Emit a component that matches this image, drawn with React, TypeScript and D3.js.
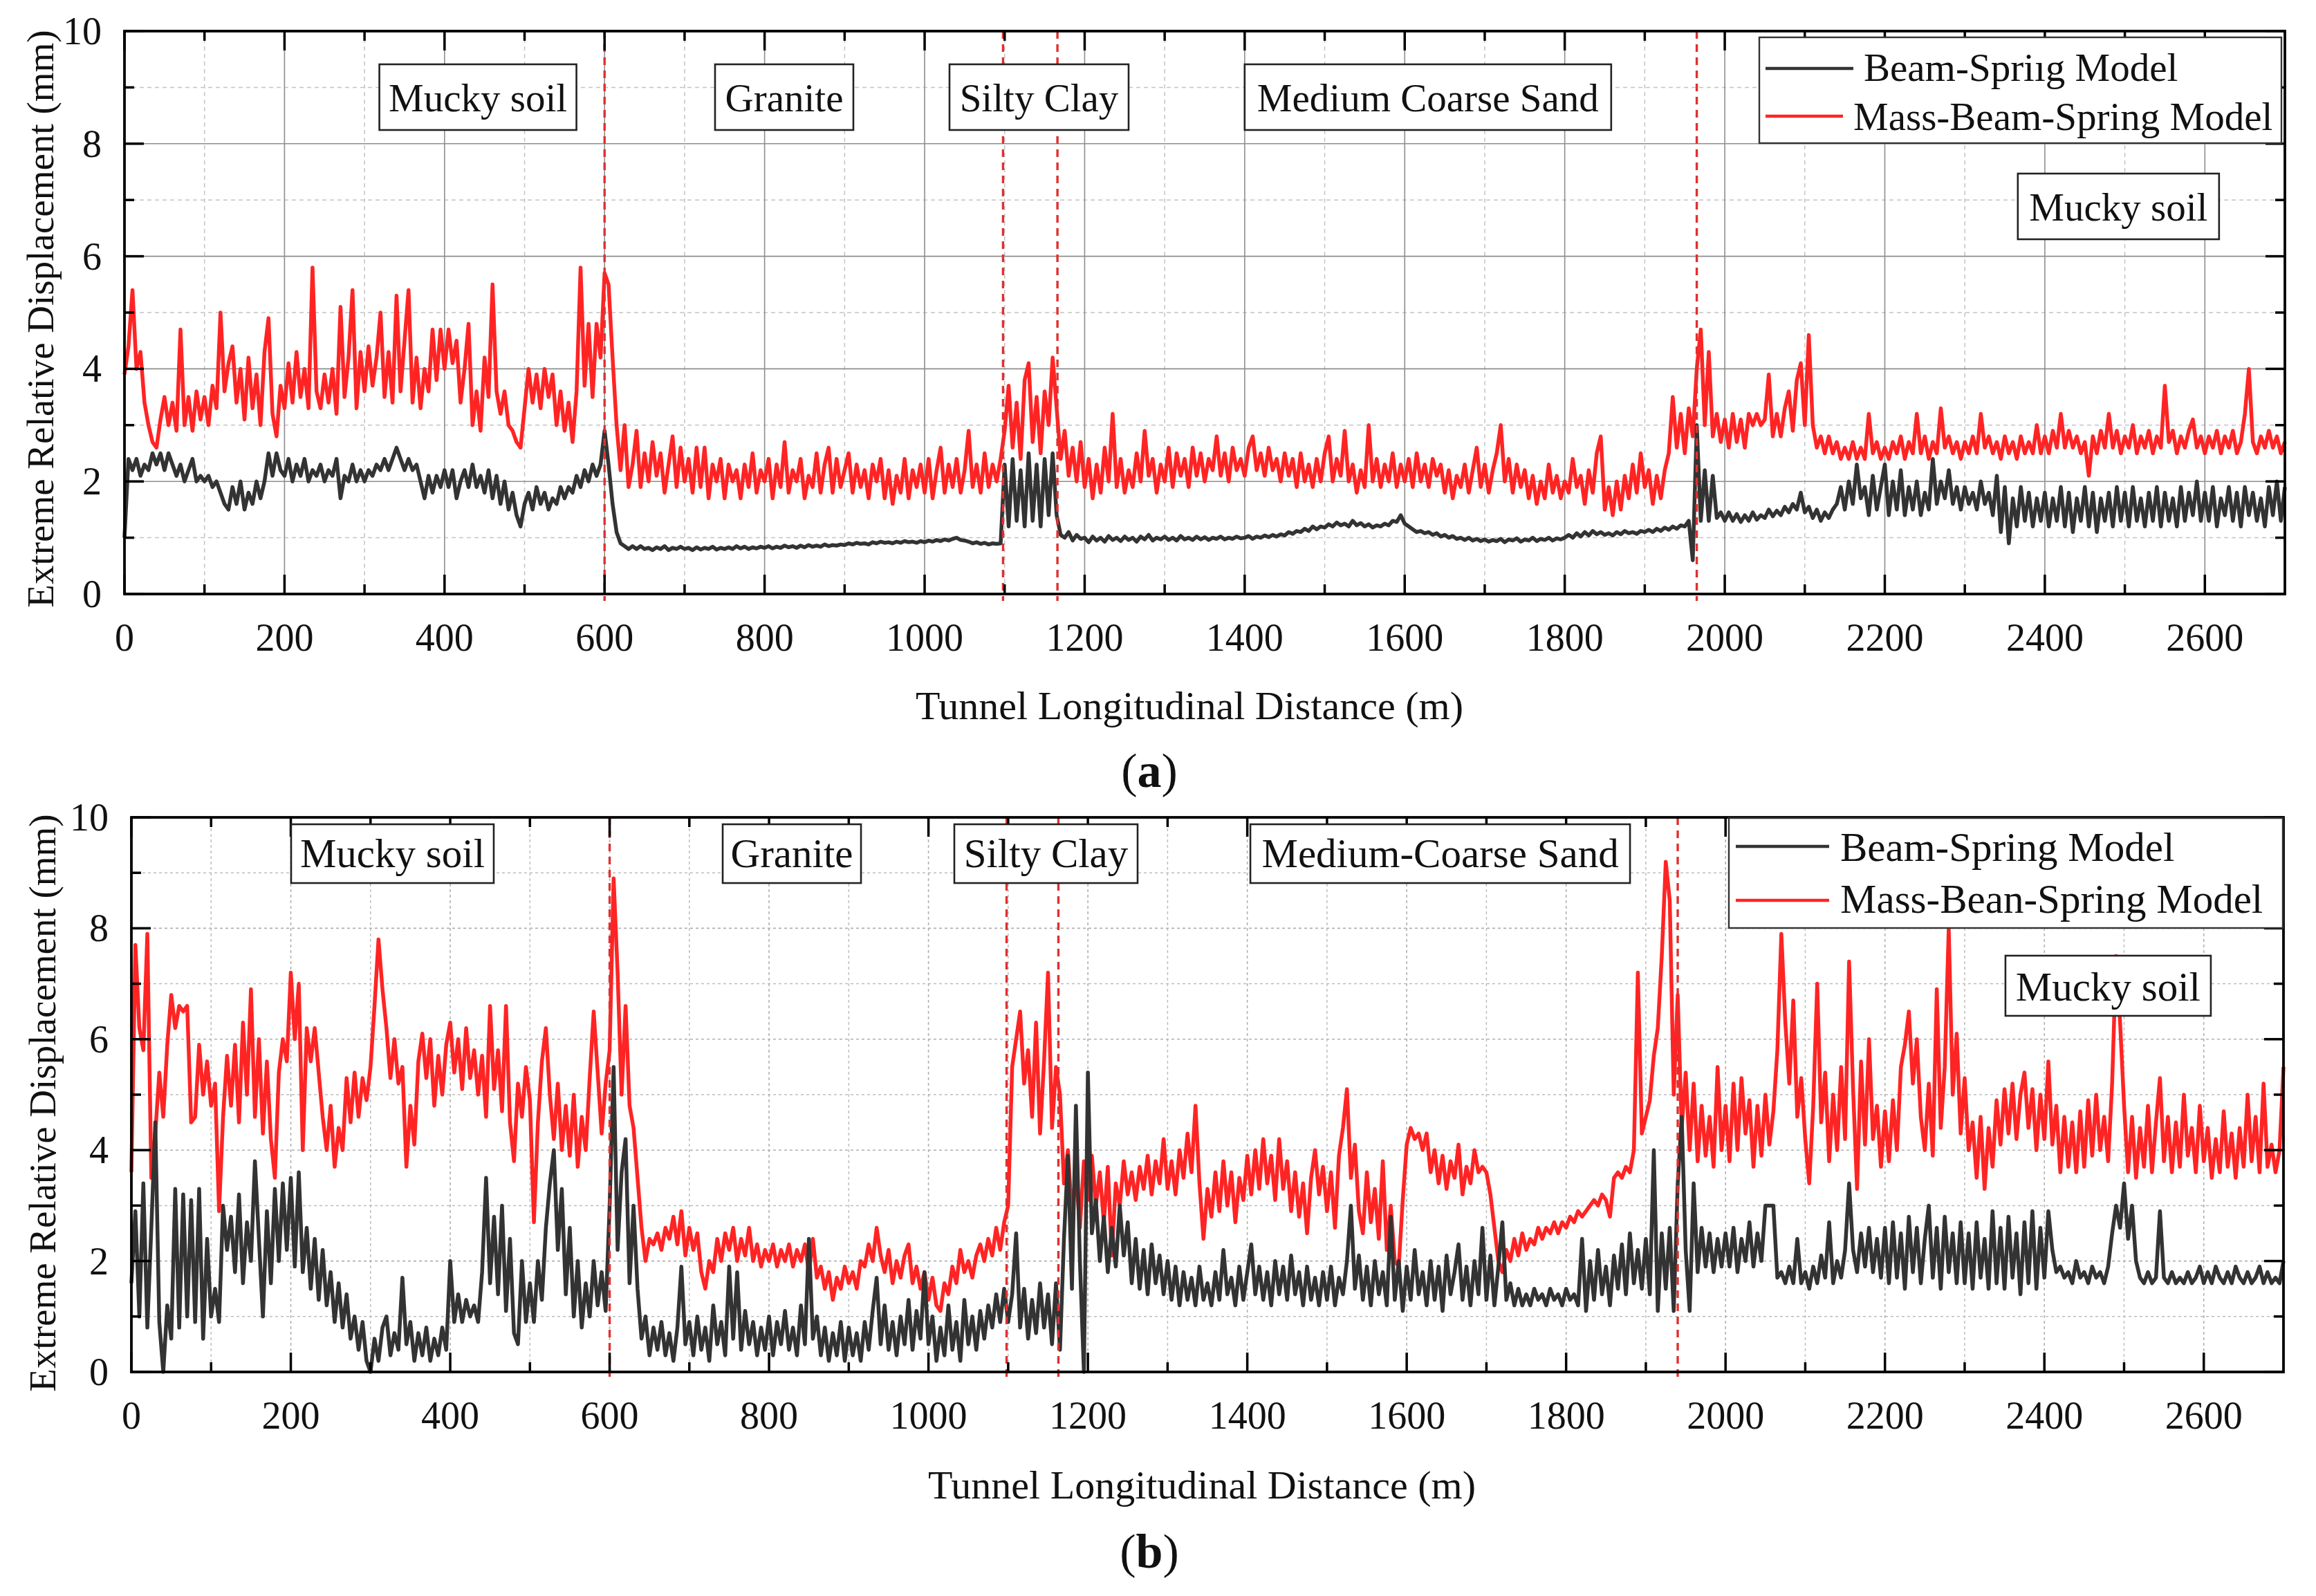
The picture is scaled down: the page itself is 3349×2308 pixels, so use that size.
import React from 'react';
import * as d3 from 'd3';

// distance step between samples (m)
const STEP = 5;

// ---------- (a) ----------
const topBS = [
1.0,2.4,2.2,2.4,2.1,2.3,2.2,2.5,2.3,2.5,2.2,2.5,2.3,2.1,2.3,2.0,2.2,2.4,2.0,2.1,
2.0,2.1,1.9,2.0,1.8,1.6,1.5,1.9,1.6,2.0,1.5,1.8,1.6,2.0,1.7,2.0,2.5,2.1,2.5,2.2,
2.1,2.4,2.0,2.3,2.1,2.4,2.0,2.2,2.1,2.3,2.0,2.2,2.1,2.4,1.7,2.1,2.0,2.3,2.0,2.2,
2.0,2.2,2.1,2.3,2.2,2.4,2.2,2.4,2.6,2.4,2.2,2.4,2.2,2.3,2.0,1.7,2.1,1.8,2.1,1.9,
2.2,1.9,2.2,1.7,2.0,2.2,1.9,2.3,1.9,2.1,1.8,2.2,1.7,2.1,1.6,2.0,1.5,1.8,1.4,1.2,
1.6,1.8,1.5,1.9,1.6,1.8,1.5,1.7,1.6,1.9,1.7,1.9,1.8,2.1,1.9,2.2,2.0,2.3,2.1,2.3,
2.9,2.3,1.6,1.1,0.9,0.85,0.8,0.85,0.8,0.85,0.8,0.82,0.78,0.83,0.8,0.85,0.78,0.82,0.8,0.84,
0.8,0.82,0.78,0.83,0.79,0.82,0.8,0.84,0.79,0.82,0.8,0.83,0.8,0.85,0.81,0.84,0.8,0.83,0.81,0.84,
0.82,0.85,0.81,0.84,0.82,0.86,0.83,0.85,0.82,0.86,0.83,0.87,0.84,0.86,0.84,0.88,0.85,0.87,0.86,0.88,
0.87,0.9,0.88,0.91,0.89,0.9,0.88,0.92,0.9,0.93,0.91,0.92,0.9,0.93,0.91,0.94,0.92,0.93,0.91,0.94,
0.92,0.95,0.93,0.96,0.94,0.97,0.95,0.98,1.0,0.96,0.95,0.93,0.9,0.92,0.89,0.91,0.88,0.9,0.89,0.9,
2.3,1.2,2.4,1.3,2.2,1.2,2.5,1.3,2.3,1.2,2.4,1.4,2.5,1.4,1.05,1.0,1.1,0.95,1.05,0.98,
1.0,0.92,1.02,0.95,1.0,0.93,1.03,0.96,1.0,0.94,1.02,0.96,1.0,0.93,1.02,0.97,1.05,0.95,1.0,0.97,
1.02,0.96,1.0,0.95,1.03,0.97,1.0,0.96,1.02,0.97,1.01,0.96,1.0,0.98,1.02,0.97,1.0,0.98,1.02,0.99,
1.0,1.03,0.98,1.02,1.0,1.04,1.01,1.05,1.02,1.06,1.04,1.1,1.07,1.12,1.1,1.16,1.12,1.2,1.15,1.2,
1.18,1.24,1.2,1.27,1.22,1.25,1.2,1.3,1.22,1.26,1.2,1.24,1.18,1.22,1.2,1.25,1.22,1.3,1.28,1.4,
1.25,1.2,1.15,1.1,1.12,1.08,1.1,1.05,1.08,1.02,1.05,1.0,1.03,0.98,1.0,0.96,1.0,0.95,0.98,0.94,
0.97,0.93,0.96,0.94,0.98,0.92,0.97,0.95,0.99,0.93,0.97,0.95,1.0,0.94,0.98,0.96,1.0,0.95,0.99,0.97,
1.0,1.05,1.0,1.08,1.02,1.1,1.04,1.12,1.06,1.1,1.05,1.08,1.04,1.1,1.06,1.12,1.08,1.1,1.07,1.12,
1.1,1.14,1.1,1.16,1.12,1.18,1.14,1.2,1.16,1.22,1.2,1.3,0.6,3.0,1.3,2.2,1.3,2.1,1.35,1.45,
1.3,1.45,1.3,1.42,1.28,1.4,1.3,1.45,1.32,1.4,1.35,1.5,1.38,1.48,1.4,1.55,1.45,1.6,1.5,1.8,
1.45,1.55,1.35,1.5,1.3,1.45,1.35,1.5,1.6,1.9,1.5,2.0,1.6,2.3,1.7,1.9,1.4,2.1,1.5,1.9,
2.3,1.4,2.0,1.5,2.2,1.4,1.9,1.5,2.0,1.4,1.8,1.5,2.4,1.6,2.0,1.7,2.2,1.6,1.9,1.5,
1.9,1.6,1.8,1.5,2.0,1.6,1.8,1.4,2.1,1.1,1.9,0.9,1.7,1.2,1.9,1.3,1.8,1.2,1.7,1.3,
1.8,1.2,1.7,1.3,1.9,1.2,1.8,1.1,1.7,1.3,1.9,1.2,1.8,1.1,1.7,1.3,1.8,1.2,1.9,1.3,
1.8,1.2,1.9,1.3,1.7,1.2,1.8,1.3,1.9,1.2,1.8,1.3,1.7,1.2,1.9,1.3,1.8,1.4,2.0,1.3,
1.8,1.3,1.9,1.2,1.7,1.4,1.9,1.3,1.8,1.2,1.9,1.4,1.8,1.3,1.7,1.2,1.9,1.4,2.0,1.3,
1.9,
];

const topMBS = [
3.9,4.4,5.4,4.0,4.3,3.4,3.0,2.7,2.6,3.1,3.5,3.0,3.4,2.9,4.7,3.0,3.5,2.9,3.6,3.1,
3.5,3.0,3.7,3.3,5.0,3.6,4.1,4.4,3.4,4.0,3.1,4.2,3.3,3.9,3.0,4.3,4.9,3.2,2.8,3.7,
3.3,4.1,3.4,4.3,3.5,4.0,3.3,5.8,3.6,3.3,3.9,3.4,4.0,3.2,5.1,3.5,4.2,5.4,3.3,4.3,
3.6,4.4,3.7,4.2,5.0,3.5,4.3,3.4,5.3,3.6,4.5,5.4,3.4,4.2,3.3,4.0,3.6,4.7,3.8,4.7,
4.0,4.7,4.1,4.5,3.4,4.0,4.8,3.0,3.6,2.9,4.2,3.5,5.5,3.6,3.2,3.6,3.0,2.9,2.7,2.6,
3.3,4.0,3.4,3.9,3.3,4.0,3.5,3.9,3.0,3.6,2.9,3.4,2.7,3.6,5.8,3.7,4.8,3.5,4.8,4.2,
5.7,5.5,4.2,3.0,2.2,3.0,1.9,2.3,2.9,1.9,2.5,2.0,2.7,2.1,2.5,1.8,2.3,2.8,1.9,2.6,
2.0,2.4,1.8,2.6,1.9,2.6,1.7,2.3,2.0,2.4,1.7,2.3,2.0,2.2,1.7,2.3,1.9,2.5,1.8,2.2,
2.0,2.4,1.7,2.3,1.9,2.7,1.8,2.2,2.0,2.4,1.7,2.1,1.9,2.5,1.8,2.3,2.6,1.8,2.4,1.9,
2.2,2.5,1.8,2.3,1.9,2.2,1.7,2.3,2.0,2.4,1.7,2.2,1.6,2.1,1.8,2.4,1.7,2.2,1.9,2.3,
1.8,2.4,1.7,2.2,2.6,1.8,2.3,1.9,2.4,1.8,2.2,2.9,1.9,2.3,1.8,2.5,1.9,2.3,2.0,2.4,
2.9,3.7,2.6,3.4,2.4,3.8,4.1,2.7,3.5,2.5,3.6,3.0,4.2,3.3,2.4,2.9,2.1,2.6,2.0,2.7,
1.9,2.4,1.7,2.3,1.8,2.6,2.0,3.2,1.9,2.4,1.8,2.2,1.9,2.5,2.0,2.9,2.1,2.4,1.8,2.3,
2.0,2.6,1.9,2.5,2.1,2.4,1.9,2.6,2.1,2.5,2.0,2.4,2.2,2.8,2.1,2.5,2.0,2.6,2.2,2.4,
2.1,2.6,2.8,2.2,2.5,2.1,2.6,2.2,2.4,2.0,2.5,2.1,2.4,1.9,2.5,2.0,2.3,1.9,2.4,2.0,
2.5,2.8,2.0,2.4,2.1,2.9,2.0,2.3,1.8,2.2,1.9,3.0,2.0,2.4,1.9,2.3,2.0,2.5,1.9,2.3,
2.0,2.4,1.9,2.5,2.0,2.3,1.9,2.4,2.1,2.3,1.8,2.2,1.7,2.1,1.9,2.3,1.8,2.2,2.6,1.9,
2.3,1.8,2.2,2.5,3.0,2.0,2.4,1.8,2.3,1.9,2.2,1.7,2.1,1.6,2.0,1.7,2.3,1.8,2.1,1.7,
2.0,1.8,2.4,1.9,2.1,1.6,2.2,1.8,2.5,2.8,1.5,1.9,1.4,2.0,1.5,2.1,1.7,2.3,1.8,2.5,
1.9,2.2,1.6,2.1,1.7,2.2,2.5,3.5,2.6,3.2,2.5,3.3,2.8,4.0,4.7,3.0,4.3,2.8,3.2,2.7,
3.1,2.6,3.2,2.7,3.1,2.6,3.2,3.0,3.2,3.0,3.1,3.9,2.8,3.2,2.8,3.3,3.6,2.9,3.8,4.1,
3.0,4.6,3.0,2.6,2.8,2.5,2.8,2.5,2.7,2.4,2.6,2.4,2.7,2.4,2.6,2.4,3.2,2.5,2.7,2.4,
2.6,2.4,2.7,2.5,2.8,2.4,2.7,2.5,3.2,2.5,2.8,2.4,2.7,2.5,3.3,2.6,2.8,2.5,2.7,2.4,
2.7,2.5,2.8,2.5,3.2,2.6,2.8,2.5,2.7,2.4,2.8,2.5,2.7,2.4,2.8,2.5,2.7,2.5,3.0,2.5,
2.8,2.5,2.9,2.6,3.2,2.6,2.9,2.6,2.8,2.5,2.7,2.1,2.8,2.5,2.9,2.6,3.2,2.6,2.9,2.5,
2.8,2.6,3.0,2.5,2.8,2.6,2.9,2.5,2.8,2.6,3.7,2.7,2.9,2.5,2.8,2.6,2.9,3.1,2.6,2.8,
2.5,2.8,2.6,2.9,2.5,2.8,2.6,2.9,2.5,2.7,3.2,4.0,2.7,2.5,2.8,2.6,2.9,2.6,2.8,2.5,
2.7,
];

// ---------- (b) ----------
const botBS = [
1.6,2.9,1.0,3.4,0.8,2.6,4.5,0.9,0.0,1.2,0.6,3.3,0.8,3.2,1.0,3.1,0.9,3.3,0.6,2.4,
1.0,1.5,0.9,3.0,2.2,2.8,1.8,3.2,1.6,2.7,2.0,3.8,2.4,1.0,2.9,1.6,3.3,2.0,3.4,2.2,
3.5,1.9,3.6,1.8,2.6,1.5,2.4,1.3,2.2,1.2,1.8,0.9,1.6,0.8,1.4,0.6,1.0,0.4,0.9,0.2,
0.0,0.6,0.2,0.8,1.0,0.3,0.7,0.4,1.7,0.5,0.9,0.2,0.7,0.3,0.8,0.2,0.6,0.3,0.8,0.4,
2.0,0.9,1.4,0.9,1.3,1.0,1.2,0.9,1.8,3.5,1.6,2.8,1.4,3.0,1.1,2.4,0.7,0.5,2.0,0.9,
1.6,0.9,2.0,1.3,2.6,3.4,4.0,2.2,3.3,1.4,2.6,1.0,2.0,0.8,1.6,1.0,2.0,1.2,1.8,1.1,
3.0,5.5,2.2,3.6,4.2,1.6,3.0,1.5,0.6,1.0,0.3,0.8,0.4,0.9,0.3,0.7,0.2,0.8,1.9,0.5,
0.9,0.3,1.0,0.4,0.8,0.2,1.2,0.5,0.9,0.3,1.9,0.6,1.8,0.4,1.1,0.5,0.9,0.3,0.8,0.4,
1.0,0.3,0.9,0.5,1.1,0.4,0.8,0.3,1.2,0.5,2.4,0.6,1.0,0.3,0.8,0.2,0.7,0.3,0.9,0.2,
0.8,0.3,0.7,0.2,0.9,0.4,1.1,1.7,0.5,1.2,0.4,0.9,0.3,1.0,0.5,1.3,0.4,1.1,0.6,1.8,
0.5,1.0,0.2,0.8,0.3,1.2,0.4,0.9,0.2,1.3,0.5,1.0,0.4,1.1,0.6,1.2,0.8,1.4,0.9,1.5,
0.9,1.4,2.5,0.8,1.5,0.6,1.3,0.7,1.6,0.8,1.4,0.5,1.6,0.4,2.4,3.9,1.5,4.8,2.0,0.0,
5.4,2.5,3.1,2.0,2.8,1.8,2.6,1.9,3.0,2.1,2.7,1.6,2.4,1.5,2.2,1.4,2.3,1.6,2.1,1.4,
2.0,1.3,1.9,1.2,1.8,1.3,1.7,1.2,1.9,1.3,1.6,1.2,1.8,1.3,2.2,1.4,1.7,1.2,1.9,1.3,
1.8,2.3,1.4,1.9,1.3,1.8,1.2,2.0,1.4,1.9,1.3,2.1,1.4,1.8,1.2,1.9,1.3,1.7,1.2,1.8,
1.3,1.9,1.2,1.7,1.4,2.0,3.0,1.5,2.1,1.3,1.9,1.2,2.0,1.4,1.8,1.2,2.8,1.3,2.0,1.1,
1.9,1.3,2.2,1.4,1.8,1.2,2.0,1.3,1.9,1.1,2.1,1.4,1.8,2.3,1.3,1.9,1.2,2.0,1.4,2.6,
1.3,2.1,1.2,1.9,2.7,1.3,1.6,1.2,1.5,1.2,1.4,1.2,1.5,1.3,1.4,1.2,1.5,1.3,1.4,1.2,
1.5,1.3,1.4,1.2,2.4,1.1,2.0,1.3,2.2,1.4,1.9,1.2,2.1,1.5,2.3,1.4,2.5,1.6,2.2,1.5,
2.4,1.4,4.0,1.1,2.5,1.5,2.6,1.1,3.4,4.6,2.2,1.1,3.4,1.8,2.6,1.9,2.5,1.8,2.4,1.9,
2.5,1.9,2.6,1.8,2.4,2.0,2.7,1.9,2.5,2.0,3.0,3.0,3.0,1.7,1.8,1.6,1.9,1.6,2.4,1.6,
1.8,1.5,1.9,1.6,2.1,1.7,2.7,1.6,2.0,1.7,2.2,3.4,2.2,1.8,2.5,1.9,2.6,1.8,2.4,1.7,
2.6,1.6,2.7,1.7,2.5,1.5,2.8,1.8,2.6,1.6,2.4,3.0,1.7,2.6,1.5,2.8,1.8,2.5,1.6,2.7,
1.6,2.5,1.5,2.7,1.7,2.4,1.5,2.9,1.6,2.6,1.5,2.8,1.7,2.5,1.4,2.7,1.6,2.9,1.5,2.6,
1.7,2.9,2.2,1.8,1.9,1.7,1.8,1.6,2.0,1.7,1.8,1.6,1.9,1.7,1.8,1.6,1.9,2.5,3.0,2.6,
3.4,2.4,3.0,2.0,1.7,1.6,1.8,1.6,1.7,2.9,1.7,1.6,1.8,1.6,1.7,1.6,1.8,1.6,1.7,1.9,
1.6,1.8,1.6,1.9,1.7,1.6,1.8,1.6,1.9,1.7,1.6,1.8,1.6,1.7,1.9,1.6,1.8,1.6,1.7,1.6,
2.0,
];

const botMBS = [
3.6,7.7,6.2,5.8,7.9,3.5,4.3,5.4,4.6,5.9,6.8,6.2,6.6,6.5,6.6,4.5,4.6,5.9,5.0,5.6,
4.8,5.2,2.9,4.6,5.7,4.8,5.9,4.5,6.3,5.0,6.9,4.6,6.0,4.3,5.6,4.2,3.5,5.4,6.0,5.6,
7.2,6.0,7.0,4.0,6.2,5.6,6.2,5.4,4.6,4.0,4.8,3.7,4.4,4.0,5.3,4.5,5.4,4.6,5.3,4.9,
5.5,6.6,7.8,6.9,6.2,5.3,6.0,5.2,5.5,3.7,4.8,4.1,5.6,6.1,5.3,6.0,4.8,5.7,5.0,5.9,
6.3,5.4,6.0,5.1,6.2,5.3,5.8,5.0,5.7,4.6,6.6,5.1,5.8,4.7,6.6,4.5,3.8,5.2,4.6,5.5,
4.9,2.7,4.5,5.6,6.2,5.0,4.2,5.2,4.0,4.8,3.9,5.0,3.7,4.6,4.0,5.3,6.5,5.4,4.3,5.2,
5.8,8.9,7.2,5.0,6.6,4.8,4.4,3.5,2.6,2.0,2.4,2.3,2.5,2.2,2.6,2.4,2.8,2.3,2.9,2.1,
2.6,2.2,2.5,1.8,1.5,2.0,1.8,2.4,2.0,2.5,2.2,2.6,2.0,2.4,2.1,2.6,2.0,2.3,1.9,2.2,
2.0,2.3,1.9,2.2,2.0,2.3,1.9,2.2,2.0,2.3,1.8,2.4,1.7,1.9,1.5,1.8,1.3,1.7,1.5,1.9,
1.6,1.8,1.5,2.0,1.9,2.3,2.0,2.6,2.1,1.8,2.2,1.6,2.0,1.7,2.1,2.3,1.6,1.9,1.5,1.8,
1.3,1.7,1.2,1.1,1.6,1.4,1.9,1.6,2.2,1.8,2.0,1.7,2.1,2.3,2.0,2.4,2.1,2.6,2.2,2.7,
3.0,5.5,6.0,6.5,5.2,5.8,4.6,6.3,4.3,5.6,7.2,4.4,5.5,5.0,3.4,4.0,2.8,3.6,2.6,3.8,
3.1,3.9,3.0,3.6,2.7,3.7,2.1,3.4,3.0,3.8,3.2,3.6,3.1,3.7,3.3,3.9,3.2,3.8,3.4,4.2,
3.3,3.8,3.2,4.0,3.5,4.3,3.6,4.8,3.4,2.4,3.3,2.8,3.6,2.9,3.8,3.0,3.6,2.7,3.5,3.1,
3.9,3.2,4.0,3.3,4.2,3.4,3.9,3.1,4.2,3.3,3.8,2.9,3.6,2.8,3.4,2.5,3.5,4.0,3.2,3.7,
2.9,3.6,2.6,3.9,4.4,5.1,3.5,4.1,2.9,2.5,3.6,2.7,3.3,2.4,3.8,2.2,3.0,2.0,1.9,3.1,
4.1,4.4,4.2,4.3,4.0,4.3,3.6,4.0,3.4,3.9,3.3,3.8,3.5,4.1,3.2,3.7,3.4,4.0,3.6,3.7,
3.6,3.2,2.6,2.0,1.8,2.2,2.0,2.4,2.1,2.5,2.2,2.4,2.3,2.6,2.4,2.6,2.5,2.7,2.5,2.7,
2.6,2.8,2.7,2.9,2.8,2.9,3.0,3.1,3.0,3.2,3.1,2.8,3.5,3.6,3.5,3.7,3.6,4.0,7.2,4.3,
4.6,4.9,5.7,6.2,7.5,9.2,8.5,5.0,6.8,4.4,5.4,4.0,5.2,3.8,4.8,3.9,4.6,3.7,5.5,4.0,
4.8,3.8,5.2,4.0,5.3,4.3,4.9,3.7,4.8,3.9,5.0,4.1,4.7,5.8,7.9,6.3,5.2,6.7,4.6,5.3,
4.2,3.4,4.8,7.0,4.5,5.4,3.8,5.0,4.0,5.5,4.2,7.4,5.1,3.3,5.6,4.1,6.0,4.2,4.8,3.7,
4.7,3.8,4.9,4.0,5.5,5.9,6.5,5.2,6.0,4.6,4.0,5.2,3.9,6.9,4.4,5.5,8.0,5.0,6.1,4.3,
5.3,4.0,4.5,3.5,4.6,3.3,4.4,3.7,4.9,4.1,5.1,4.3,5.2,4.2,5.0,5.4,4.4,5.1,4.0,5.0,
4.2,5.6,4.1,4.8,3.6,4.6,3.7,4.5,3.6,4.7,3.7,4.9,3.9,5.0,4.0,4.6,3.8,5.2,7.5,6.3,
4.8,3.6,4.6,3.5,4.4,3.7,4.8,3.6,4.5,5.3,3.8,4.6,3.6,4.5,3.7,5.0,3.9,4.4,3.6,4.8,
3.8,4.4,3.5,4.2,3.6,4.7,3.7,4.3,3.5,4.4,3.7,5.0,3.8,4.6,3.6,5.2,3.7,4.1,3.6,4.0,
5.5,
];

// ---------- axes, annotations ----------
const X_DOMAIN = [0, 2700];
const Y_DOMAIN = [0, 10];
const xMajorTicks = d3.range(0, 2701, 200);
const xMinorTicks = d3.range(100, 2700, 200);
const yMajorTicks = [0, 2, 4, 6, 8, 10];
const yMinorTicks = [1, 3, 5, 7, 9];

const topLayerNames = ['Mucky soil', 'Granite', 'Silty Clay', 'Medium Coarse Sand', 'Mucky soil'];
const topLayerCenters = [441.7, 824.5, 1143, 1629, 2492];
const topLayerWidths = [285, 200, 259, 530, 291];
const topLayerRows = [0, 0, 0, 0, 1];
const topBoundaries = [600, 1098, 1166, 1965];
const topLegendNames = ['Beam-Spri\u0131g Model', 'Mass-Beam-Spring Model'];

const botLayerNames = ['Mucky soil', 'Granite', 'Silty Clay', 'Medium-Coarse Sand', 'Mucky soil'];
const botLayerCenters = [327.5, 828.6, 1147.4, 1642, 2480];
const botLayerWidths = [293, 200, 265, 549, 297];
const botLayerRows = [0, 0, 0, 0, 1];
const botBoundaries = [600, 1098, 1163, 1940];
const botLegendNames = ['Beam-Spring Model', 'Mass-Bean-Spring Model'];

const XTITLE = 'Tunnel Longitudinal Distance (m)';
const YTITLE = 'Extreme Relative Displacement (mm)';

const RED = '#ff2424';
const BLACK = '#333333';
const FONT = "'Liberation Serif','Times New Roman',Times,serif";

type Cfg = {
  left: number; right: number; top: number; bottom: number;
  bs: number[]; mbs: number[];
  names: string[]; centers: number[]; widths: number[]; rows: number[];
  rowTop: number[]; rowH: number[]; rowBase: number[]; labelSize: number;
  bounds: number[]; legend: string[];
  leg: { x0: number; x1: number; y0: number; y1: number; lx0: number; lx1: number[]; ly: number[]; tx: number[]; tb: number[]; size: number };
  solidGrid: boolean;
  yTitleX: number; yTitleY: number; xTitleX: number; xTitleY: number;
  tag: string; tagY: number;
};

const topCfg: Cfg = {
  left: 180, right: 3304, top: 45, bottom: 859,
  bs: topBS, mbs: topMBS,
  names: topLayerNames, centers: topLayerCenters, widths: topLayerWidths, rows: topLayerRows,
  rowTop: [93, 251], rowH: [95, 95], rowBase: [161, 319], labelSize: 57,
  bounds: topBoundaries, legend: topLegendNames,
  leg: { x0: 2544, x1: 3299, y0: 54, y1: 207, lx0: 2553, lx1: [2680, 2665], ly: [99, 168], tx: [2695, 2680], tb: [117, 188], size: 57 },
  solidGrid: true,
  yTitleX: 77, yTitleY: 461, xTitleX: 1720, xTitleY: 1040,
  tag: 'a', tagY: 1138,
};

const botCfg: Cfg = {
  left: 190, right: 3302, top: 1182, bottom: 1984,
  bs: botBS, mbs: botMBS,
  names: botLayerNames, centers: botLayerCenters, widths: botLayerWidths, rows: botLayerRows,
  rowTop: [1192, 1382], rowH: [85, 87], rowBase: [1254, 1447], labelSize: 59,
  bounds: botBoundaries, legend: botLegendNames,
  leg: { x0: 2500, x1: 3301, y0: 1183, y1: 1342, lx0: 2510, lx1: [2645, 2645], ly: [1224, 1302], tx: [2661, 2661], tb: [1245, 1320], size: 59 },
  solidGrid: false,
  yTitleX: 80, yTitleY: 1595, xTitleX: 1738, xTitleY: 2167,
  tag: 'b', tagY: 2267,
};

function Panel({ c }: { c: Cfg }) {
  const x = d3.scaleLinear().domain(X_DOMAIN).range([c.left, c.right]);
  const y = d3.scaleLinear().domain(Y_DOMAIN).range([c.bottom, c.top]);
  const line = d3.line<number>().x((_, i) => x(i * STEP)).y((d) => y(d));
  const majGridX = xMajorTicks.filter((v) => v > 0 && v < 2700);
  const majGridY = yMajorTicks.filter((v) => v > 0 && v < 10);
  const gMajor = c.solidGrid
    ? { stroke: '#8e8e8e', strokeWidth: 1.6 }
    : { stroke: '#b0b0b0', strokeWidth: 1.6, strokeDasharray: '4,4' };
  const gMinor = c.solidGrid
    ? { stroke: '#c4c4c4', strokeWidth: 1.5, strokeDasharray: '6,5' }
    : { stroke: '#bdbdbd', strokeWidth: 1.5, strokeDasharray: '4,4' };
  const tickW = 3.5;
  return (
    <g>
      {/* grid */}
      {xMinorTicks.map((v) => (
        <line key={'gxn' + v} x1={x(v)} x2={x(v)} y1={c.top} y2={c.bottom} {...gMinor} />
      ))}
      {yMinorTicks.map((v) => (
        <line key={'gyn' + v} x1={c.left} x2={c.right} y1={y(v)} y2={y(v)} {...gMinor} />
      ))}
      {majGridX.map((v) => (
        <line key={'gxm' + v} x1={x(v)} x2={x(v)} y1={c.top} y2={c.bottom} {...gMajor} />
      ))}
      {majGridY.map((v) => (
        <line key={'gym' + v} x1={c.left} x2={c.right} y1={y(v)} y2={y(v)} {...gMajor} />
      ))}

      {/* series */}
      <path d={line(c.mbs) || ''} fill="none" stroke={RED} strokeWidth={5.5} strokeLinejoin="round" />
      <path d={line(c.bs) || ''} fill="none" stroke={BLACK} strokeWidth={5.5} strokeLinejoin="round" />

      {/* stratum boundaries */}
      {c.bounds.map((v) => (
        <line key={'b' + v} x1={x(v)} x2={x(v)} y1={c.top} y2={c.bottom + 10} stroke="#e03030" strokeWidth={3.4} strokeDasharray="11,8" />
      ))}

      {/* ticks */}
      {xMajorTicks.map((v) => (
        <g key={'txm' + v}>
          <line x1={x(v)} x2={x(v)} y1={c.bottom} y2={c.bottom - 28} stroke="#000" strokeWidth={tickW} />
          <line x1={x(v)} x2={x(v)} y1={c.top} y2={c.top + 28} stroke="#000" strokeWidth={tickW} />
        </g>
      ))}
      {xMinorTicks.map((v) => (
        <g key={'txn' + v}>
          <line x1={x(v)} x2={x(v)} y1={c.bottom} y2={c.bottom - 14} stroke="#000" strokeWidth={tickW} />
          <line x1={x(v)} x2={x(v)} y1={c.top} y2={c.top + 14} stroke="#000" strokeWidth={tickW} />
        </g>
      ))}
      {yMajorTicks.map((v) => (
        <g key={'tym' + v}>
          <line x1={c.left} x2={c.left + 28} y1={y(v)} y2={y(v)} stroke="#000" strokeWidth={tickW} />
          <line x1={c.right} x2={c.right - 28} y1={y(v)} y2={y(v)} stroke="#000" strokeWidth={tickW} />
        </g>
      ))}
      {yMinorTicks.map((v) => (
        <g key={'tyn' + v}>
          <line x1={c.left} x2={c.left + 14} y1={y(v)} y2={y(v)} stroke="#000" strokeWidth={tickW} />
          <line x1={c.right} x2={c.right - 14} y1={y(v)} y2={y(v)} stroke="#000" strokeWidth={tickW} />
        </g>
      ))}

      {/* frame */}
      <rect x={c.left} y={c.top} width={c.right - c.left} height={c.bottom - c.top} fill="none" stroke="#000" strokeWidth={3.8} />

      {/* tick labels */}
      {xMajorTicks.map((v) => (
        <text key={'lx' + v} x={x(v)} y={c.bottom + 82} fontSize={56} textAnchor="middle" fill="#111">{v}</text>
      ))}
      {yMajorTicks.map((v) => (
        <text key={'ly' + v} x={c.left - 33} y={y(v) + 19} fontSize={56} textAnchor="end" fill="#111">{v}</text>
      ))}

      {/* axis titles */}
      <text x={c.xTitleX} y={c.xTitleY} fontSize={58} textAnchor="middle" fill="#111">{XTITLE}</text>
      <text transform={`translate(${c.yTitleX},${c.yTitleY}) rotate(-90)`} fontSize={55} textAnchor="middle" fill="#111">{YTITLE}</text>

      {/* stratum labels */}
      {c.names.map((n, i) => {
        const cx = x(c.centers[i]);
        const r = c.rows[i];
        return (
          <g key={'lab' + i}>
            <rect x={cx - c.widths[i] / 2} y={c.rowTop[r]} width={c.widths[i]} height={c.rowH[r]} fill="#fff" stroke="#222" strokeWidth={2.6} />
            <text x={cx} y={c.rowBase[r]} fontSize={c.labelSize} textAnchor="middle" fill="#111">{n}</text>
          </g>
        );
      })}

      {/* legend */}
      <rect x={c.leg.x0} y={c.leg.y0} width={c.leg.x1 - c.leg.x0} height={c.leg.y1 - c.leg.y0} fill="#fff" stroke="#333" strokeWidth={2.4} />
      {c.legend.map((n, i) => (
        <g key={'leg' + i}>
          <line x1={c.leg.lx0} x2={c.leg.lx1[i]} y1={c.leg.ly[i]} y2={c.leg.ly[i]} stroke={i === 0 ? BLACK : RED} strokeWidth={4.5} />
          <text x={c.leg.tx[i]} y={c.leg.tb[i]} fontSize={c.leg.size} fill="#111">{n}</text>
        </g>
      ))}

      {/* panel tag */}
      <text x={1662} y={c.tagY} fontSize={70} textAnchor="middle" fill="#111">
        (<tspan fontWeight="bold">{c.tag}</tspan>)
      </text>
    </g>
  );
}

export default function App() {
  return (
    <svg
      width={3349}
      height={2308}
      viewBox="0 0 3349 2308"
      style={{ position: 'absolute', left: 0, top: 0, display: 'block' }}
      fontFamily={FONT}
    >
      <rect x={0} y={0} width={3349} height={2308} fill="#fff" />
      <Panel c={topCfg} />
      <Panel c={botCfg} />
    </svg>
  );
}
